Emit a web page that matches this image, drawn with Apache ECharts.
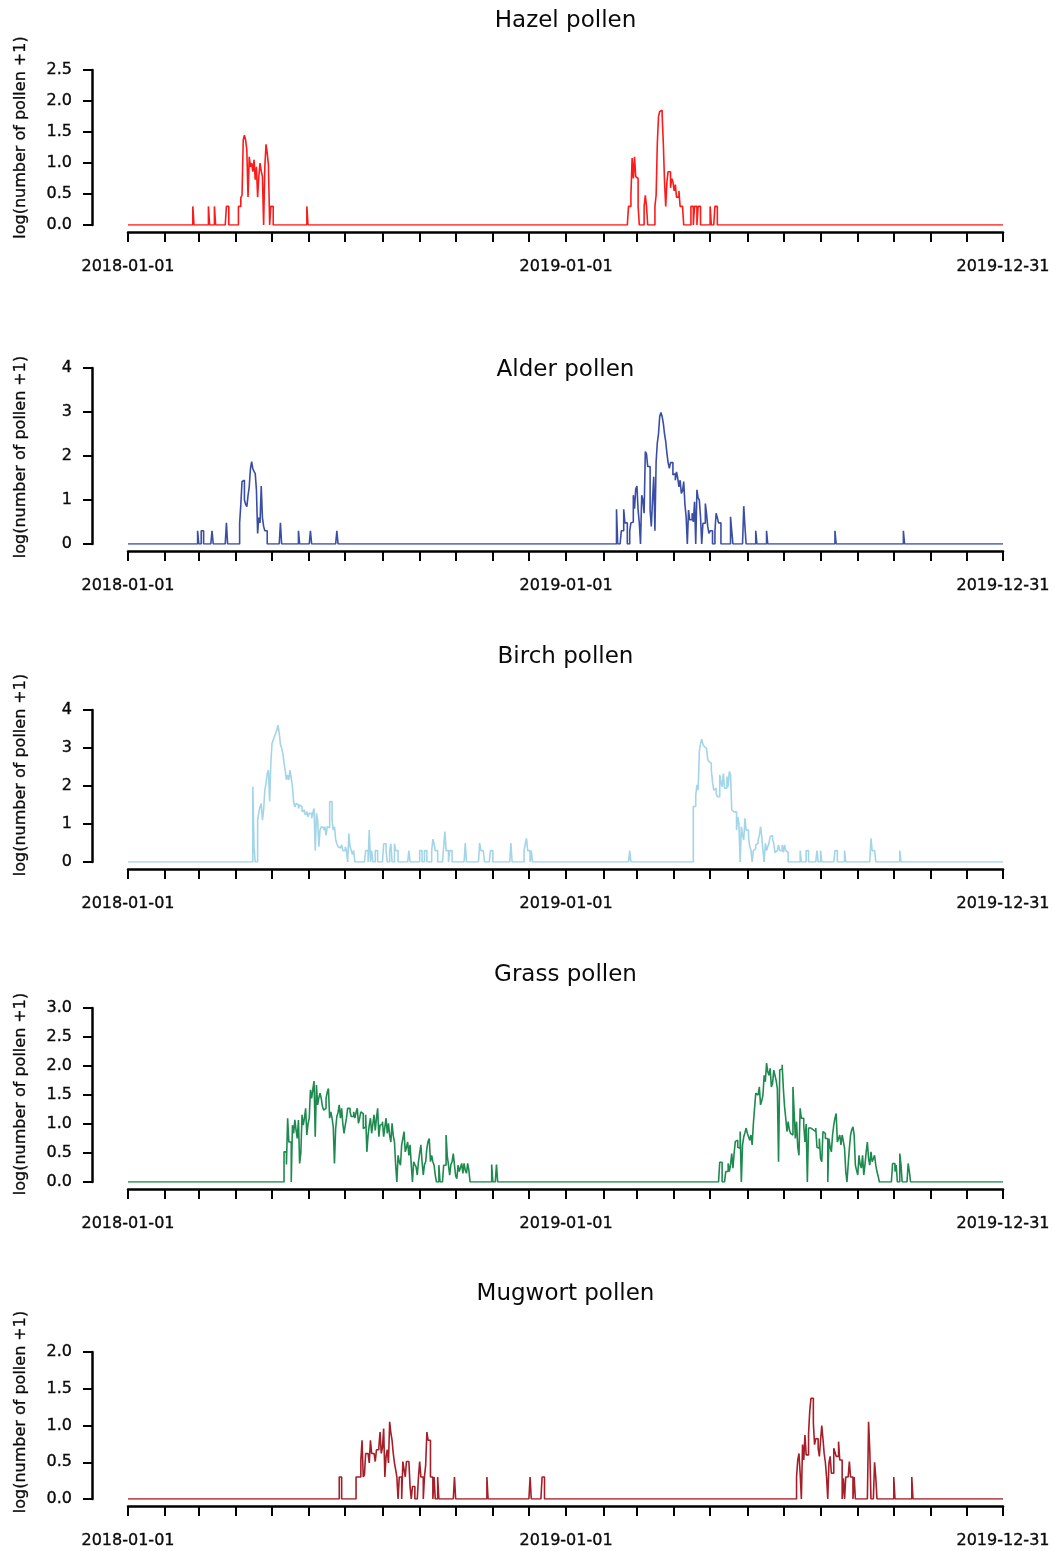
<!DOCTYPE html>
<html>
<head>
<meta charset="utf-8">
<script src="https://cdn.jsdelivr.net/npm/echarts@6/dist/echarts.min.js"></script>
<style>
html,body{margin:0;padding:0;background:#fff;}
#chart{width:1055px;height:1551px;}
</style>
</head>
<body>
<div id="chart"></div>
<script>
// ---- data (day index 0 = 2018-01-01; runs of daily values, days outside runs are 0) ----
const firstDay = '2018-01-01';
const dayCount = 730;
const xTickLabels = ['2018-01-01', '2019-01-01', '2019-12-31'];

const panelTitles = ['Hazel pollen', 'Alder pollen', 'Birch pollen', 'Grass pollen', 'Mugwort pollen'];
const yAxisTitle = 'log(number of pollen +1)';
const yMax = [2.5, 4, 4, 3, 2];
const yStep = [0.5, 1, 1, 0.5, 0.5];

const hazelRuns = [
  [54, [0.3]], [67, [0.3]], [72, [0.3]], [82, [0.3, 0.3]],
  [92, [0.3, 0.3, 0.44, 0.48, 1.37, 1.45, 1.37, 1.21, 0.45, 1.1, 0.94, 1.0, 0.86, 1.05, 0.73, 0.94, 0.45, 0.78, 1.0, 0.87, 0.78, 0, 0.94, 1.3, 1.16, 0.97, 0, 0.3, 0.3]],
  [149, [0.3]],
  [417, [0.3, 0.3, 0.48, 1.08, 0.75, 1.1, 0.78, 0.75, 0.3]],
  [430, [0.3, 0.48, 0.3]],
  [439, [0.3, 0.48, 1.32, 1.75, 1.83, 1.85, 1.78, 1.32, 0.7, 0.3, 0.7, 0.86, 0.86, 0.6, 0.75, 0.7, 0.55, 0.65, 0.45, 0.45, 0.55, 0.3, 0.3, 0.3]],
  [469, [0.3, 0.3, 0, 0.3, 0.3, 0, 0.3, 0.3]],
  [485, [0.3]], [489, [0.3, 0.3]]
];

const alderRuns = [
  [58, [0.3]], [61, [0.3, 0.3]], [70, [0.3]], [82, [0.48]],
  [93, [0.48, 0.9, 1.42, 1.45, 1.0, 0.9, 0.85, 1.1, 1.3, 1.7, 1.87, 1.71, 1.65, 1.6, 1.23, 0.24, 0.6, 0.48, 1.32, 0.6, 0.4, 0.3, 0.3]],
  [127, [0.48]], [142, [0.3]], [152, [0.3]], [174, [0.3]],
  [407, [0.79, 0, 0, 0, 0.3, 0.3, 0.79, 0.48, 0.48, 0, 0, 0.3, 0.48, 0.5, 1.11, 0.8, 1.25, 1.32, 0.77, 0.47, 0, 1.11, 1.0, 0.7, 2.1, 2.05, 1.76, 1.76, 0.77, 0.4, 1.0, 1.53, 0.3, 1.87, 2.3, 2.51, 2.9, 2.99, 2.9, 2.74, 2.5, 2.33, 2.06, 1.85, 1.72, 1.85, 1.85, 1.57, 1.6, 1.45, 1.64, 1.5, 1.3, 1.45, 1.15, 1.2, 1.42, 0.9, 0.62, 0, 0.77, 0.55, 0.55, 0.7, 0.5, 0.96, 0, 1.23, 1.05, 1.0, 0.62, 0, 0.47, 0.47, 0.92, 0.7, 0.4, 0.24, 0.3, 0.3, 0, 0, 0.3, 0.7, 0.6, 0.48, 0.48]],
  [502, [0.62, 0.3]], [513, [0.86, 0.4]], [523, [0.3]], [532, [0.3]], [589, [0.3]], [646, [0.3]]
];

const birchRuns = [
  [104, [1.98, 0.4, 0, 0, 1.1, 1.3, 1.45, 1.54, 1.1, 1.37, 1.9, 2.07, 2.33, 2.42, 1.59, 2.6, 3.12, 3.21, 3.3, 3.39, 3.47, 3.6, 3.39, 3.1, 3.0, 2.86, 2.6, 2.4, 2.16, 2.29, 2.16, 2.42, 2.2, 1.98, 1.59, 1.45, 1.54, 1.5, 1.41, 1.5, 1.45, 1.33, 1.37, 1.3, 1.24, 1.33, 1.19, 1.28, 1.28, 1.15, 1.3, 1.41, 0.3, 1.28, 1.1, 0.4, 0.84, 0.93, 0.9, 0.84, 0.93, 0.7, 0.93, 0.9, 1.59, 1.59, 1.1, 0.84, 0.93, 0.6, 0.48, 0.4, 0.37, 0.4, 0.45, 0.3, 0.3, 0.4, 0.3, 0, 0.75, 0.4, 0.3, 0.2, 0.3]],
  [198, [0.3, 0.3, 0, 0.84, 0, 0.3]],
  [206, [0.3, 0.3]], [213, [0.48, 0.48, 0.3]], [218, [0.3, 0.48]], [222, [0.48, 0.3, 0.3]],
  [234, [0.3]], [243, [0.3, 0.3]], [247, [0.3, 0.3]], [253, [0.3, 0.6, 0.48, 0.3, 0.3]],
  [263, [0.4, 0.8, 0.3, 0.3, 0, 0.3, 0.3]], [281, [0.5]], [293, [0.5, 0.3, 0.3, 0.3]],
  [302, [0.3, 0.3]], [319, [0.5]], [330, [0.3, 0.48, 0.62, 0.3, 0.3, 0, 0.3]], [418, [0.3]],
  [471, [1.46, 1.46, 1.75, 2.03, 1.89, 2.9, 3.12, 3.23, 3.1, 3.04, 2.99, 2.95, 2.7, 2.64, 2.6, 2.42, 2.1, 1.89, 1.94, 1.81, 1.72, 1.72, 2.29, 2.1, 1.98, 2.33, 1.94, 1.94, 2.25, 1.98, 2.38, 2.3, 1.37, 1.32, 1.32, 1.32, 0.84, 1.19, 1.0, 0, 0.93, 0.7, 0.58, 1.15, 0.84, 0.84, 0.67, 0.4, 0.32, 0, 0.3, 0.35, 0.45, 0.49, 0.58, 0.7, 0.93, 0.67, 0.3, 0, 0.49, 0.3, 0.4, 0.49, 0.67, 0.7, 0.6, 0.49, 0.25, 0.3, 0.3, 0.45, 0.3, 0.3, 0.45, 0.25, 0.45, 0.3, 0.25]],
  [560, [0.3]], [565, [0.3, 0.3]], [574, [0.3]], [577, [0.3]], [589, [0.3, 0.3]], [597, [0.3]],
  [619, [0.62, 0.3, 0.3, 0.3]], [643, [0.3]]
];

const grassRuns = [
  [130, [0.52, 0.52, 0.3, 1.1, 0.69, 0.69, 0, 0.98, 0.84, 1.07, 0.9, 0.75, 1.07, 0.32, 0.5, 1.16, 0.98, 1.1, 1.27, 0.81, 1.0, 1.1, 1.59, 1.44, 1.6, 1.74, 0.78, 1.67, 1.33, 1.45, 1.53, 1.44, 1.3, 1.24, 1.27, 1.44, 1.55, 1.61, 1.1, 1.21, 1.1, 0.95, 0.32, 0.92, 1.13, 1.2, 1.33, 1.1, 1.27, 1.0, 0.84, 0.98, 1.1, 1.27, 1.27, 1.21, 1.13, 1.13, 1.21, 1.1, 1.2, 1.27, 1.01, 1.1, 1.21, 1.18, 0.92, 0.95, 1.16, 0.52, 0.8, 0.98, 1.1, 0.84, 1.0, 1.16, 0.89, 1.1, 1.27, 0.78, 0.98, 1.0, 1.04, 0.78, 0.95, 1.1, 0.84, 1.01, 0.8, 0.69, 1.01, 0.8, 0.69, 0.29, 0, 0.46, 0.35, 0.29, 0.64, 0.75, 0.87, 0.52, 0.6, 0.69, 0.46, 0.64, 0.3, 0, 0.35, 0.3, 0.26, 0.12, 0.35, 0.5, 0.64, 0.35, 0.12, 0.3, 0.35, 0.58, 0.7, 0.75, 0.35, 0.46, 0.35, 0.29, 0.12, 0, 0, 0.29, 0, 0, 0, 0.29, 0.29, 0.81, 0.45, 0.29, 0.12, 0.3, 0.35, 0.49, 0.29, 0.1, 0.06, 0.29, 0.18, 0.25, 0.32, 0.15, 0.32, 0.2, 0.15, 0.32, 0.2]],
  [303, [0.3]], [307, [0.3]],
  [493, [0.34, 0.34, 0, 0, 0, 0.18, 0.18, 0.32, 0.18, 0.3, 0.49, 0.24, 0.5, 0.7, 0.72, 0.6, 0.58, 0.87, 0, 0.64, 0.78, 0.85, 0.93, 0.84, 0.78, 0.72, 0.81, 0.64, 1.0, 1.27, 1.53, 1.5, 1.5, 1.64, 1.33, 1.4, 1.5, 1.84, 1.73, 2.05, 1.9, 1.84, 1.96, 1.64, 1.7, 1.93, 1.84, 1.75, 1.61, 0.35, 1.93, 1.95, 2.02, 1.61, 1.3, 1.1, 0.87, 1.04, 0.9, 0.84, 0.81, 1.64, 1.2, 0.75, 1.04, 0.6, 0.46, 1.27, 1.1, 1.1, 0.98, 0.69, 1.0, 0, 0.93, 0.93, 0.95, 0.9, 0.9, 0.87, 0.93, 0.6, 0.58, 0.75, 0.4, 0.35, 0.87, 0.84, 0.75, 0.75, 0, 0.75, 0.6, 0.52, 0.81, 0.98, 1.1, 1.18, 0.69, 0.75, 0.81, 0.64, 0.81, 0.7, 0.58, 0.18, 0, 0.3, 0.58, 0.81, 0.9, 0.95, 0.81, 0.29, 0.2, 0.12, 0.46, 0.3, 0.24, 0.46, 0.12, 0.3, 0.52, 0.69, 0.4, 0.29, 0.52, 0.35, 0.4, 0.46, 0.29, 0.18, 0.1]],
  [637, [0.32, 0.32, 0.18, 0.29]], [643, [0.49, 0.3]], [650, [0.32, 0.18]]
];

const mugwortRuns = [
  [176, [0.3, 0.3]],
  [190, [0.3, 0.3, 0.3, 0.3, 0.53, 0.8, 0.3, 0.33, 0.62, 0.62, 0.62, 0.49, 0.8, 0.62, 0.62, 0.6, 0.51, 0.67, 0.67, 0.71, 0.91, 0.62, 0.7, 0.96, 0.3, 0.58, 0.67, 0.49, 1.05, 0.9, 0.8, 0.62, 0.49, 0.4, 0.3, 0, 0.3, 0.3, 0, 0.51, 0.4, 0.3, 0.51, 0.51, 0.51, 0.17, 0, 0.17, 0.17, 0, 0, 0, 0.3, 0.51, 0.3, 0.3, 0, 0.3, 0.46, 0.91, 0.8, 0.8, 0.3, 0.3, 0, 0.3, 0, 0, 0.3]],
  [272, [0.3]], [299, [0.3]], [335, [0.3]], [345, [0.3, 0.3]],
  [557, [0.3, 0.53, 0.62, 0.35, 0, 0.74, 0.53, 0.87, 0.6, 0.6, 0.89, 1.2, 1.37, 1.37, 1.03, 0.74, 0.82, 0.82, 0.69, 0.58, 0.8, 1.0, 0.82, 0.62, 0.5, 0.3, 0, 0.49, 0.58, 0.35, 0.35, 0.69, 0.64, 0.58, 0.58, 0.78, 0.53, 0.53, 0, 0.28, 0, 0.3, 0.3, 0.3, 0.51, 0.3, 0.3, 0, 0.3]],
  [617, [1.05, 0.67]], [622, [0.5, 0.3]], [638, [0.3]], [653, [0.3]]
];

const seriesRuns = [hazelRuns, alderRuns, birchRuns, grassRuns, mugwortRuns];
const seriesColors = ['#ff1a1a', '#3a4ea6', '#a3d5e8', '#1f8a4f', '#a61e27'];

// ---- layout ----
const panelTop = [70, 368, 710, 1008, 1352];
const panelHeight = [155, 176, 152, 174, 147];
const titleY = [20, 369, 656, 974, 1293];
const yLabelCenter = [137.5, 457, 775, 1094, 1412];
const FONT = '"DejaVu Sans", "Liberation Sans", Arial, sans-serif';
const INK = '#0a0a0a';

// categories (one per day)
const dates = [];
(function () {
  const p = firstDay.split('-').map(Number);
  for (let i = 0; i < dayCount; i++) {
    const d = new Date(Date.UTC(p[0], p[1] - 1, p[2] + i));
    dates.push(d.toISOString().slice(0, 10));
  }
})();

function expand(runs) {
  const arr = new Array(dayCount).fill(0);
  runs.forEach(function (r) {
    r[1].forEach(function (v, i) { arr[r[0] + i] = v; });
  });
  return arr;
}

const grids = [], xAxes = [], yAxes = [], series = [], graphics = [];
for (let k = 0; k < 5; k++) {
  grids.push({ left: 128, right: 52, top: panelTop[k], height: panelHeight[k], containLabel: false });
  xAxes.push({
    type: 'category', gridIndex: k, data: dates, boundaryGap: false, offset: 7,
    axisLine: { show: true, onZero: false, lineStyle: { color: '#000', width: 2.5 } },
    axisTick: {
      show: true, length: 10, lineStyle: { color: '#000', width: 2 },
      interval: function (i, v) { return v.slice(8) === '01' || i === dayCount - 1; }
    },
    axisLabel: {
      show: true, margin: 27, color: INK, fontFamily: FONT, fontSize: 16,
      textBorderColor: INK, textBorderWidth: 0.35,
      interval: function (i, v) { return xTickLabels.indexOf(v) >= 0; },
      showMinLabel: true, showMaxLabel: true
    },
    splitLine: { show: false }
  });
  yAxes.push({
    type: 'value', gridIndex: k, min: 0, max: yMax[k], interval: yStep[k], offset: 36,
    axisLine: { show: true, lineStyle: { color: '#000', width: 2.5 } },
    axisTick: { show: true, length: 9, lineStyle: { color: '#000', width: 2 } },
    axisLabel: {
      margin: 20, color: INK, fontFamily: FONT, fontSize: 16,
      textBorderColor: INK, textBorderWidth: 0.35,
      formatter: function (v) { return yStep[k] < 1 ? v.toFixed(1) : String(Math.round(v)); }
    },
    splitLine: { show: false }
  });
  series.push({
    type: 'line', xAxisIndex: k, yAxisIndex: k, data: expand(seriesRuns[k]),
    step: 'end', showSymbol: false, symbol: 'none',
    lineStyle: { color: seriesColors[k], width: 1.6 },
    itemStyle: { color: seriesColors[k] },
    silent: true, animation: false
  });
  graphics.push({
    type: 'text', x: 565.5, y: titleY[k] + 1,
    style: { text: panelTitles[k], font: '23px ' + FONT, fill: INK, textAlign: 'center', textVerticalAlign: 'middle' }
  });
  graphics.push({
    type: 'text', x: 21, y: yLabelCenter[k], rotation: Math.PI / 2,
    style: { text: yAxisTitle, font: '16px ' + FONT, fill: INK, stroke: INK, lineWidth: 0.3, textAlign: 'center', textVerticalAlign: 'middle' }
  });
}

const chart = echarts.init(document.getElementById('chart'), null, { renderer: 'canvas' });
chart.setOption({
  backgroundColor: '#ffffff',
  animation: false,
  grid: grids,
  xAxis: xAxes,
  yAxis: yAxes,
  series: series,
  graphic: graphics
});
</script>
</body>
</html>
